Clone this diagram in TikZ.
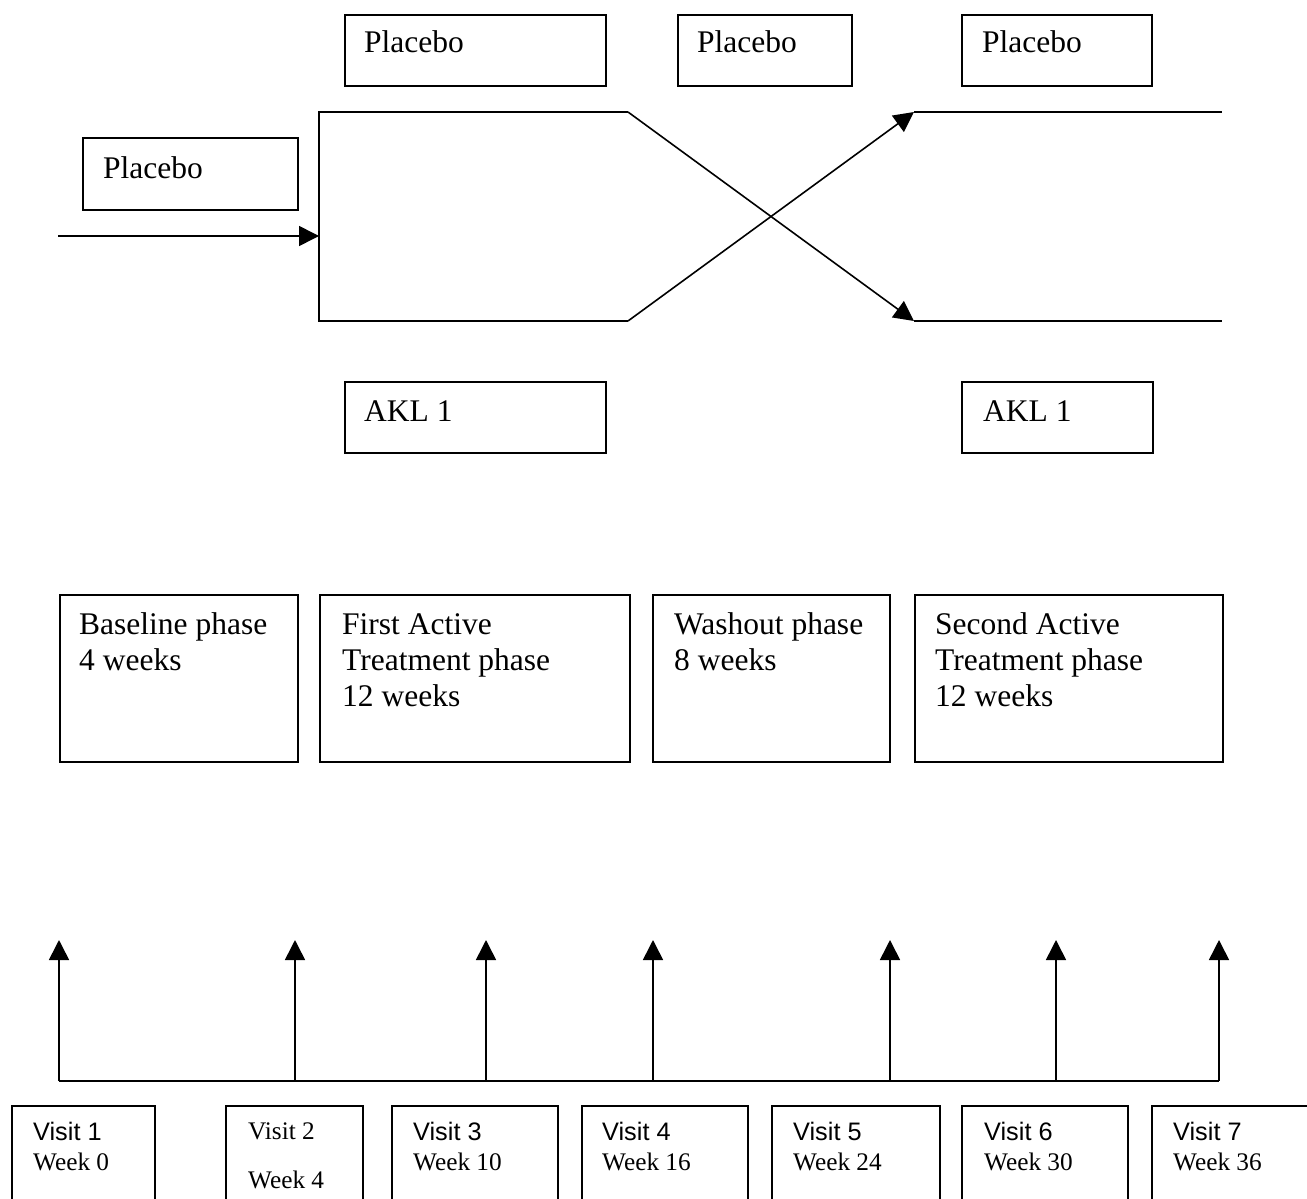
\documentclass[tikz,border=0pt]{standalone}
\usepackage{fontspec}
\setmainfont{Liberation Serif}
\newfontfamily\arialfont{Liberation Sans}
\usetikzlibrary{arrows.meta}
\begin{document}
\begin{tikzpicture}[x=1pt,y=-1pt,
  frame/.style={draw, line width=1.6pt, inner sep=0pt, anchor=north west},
  big/.style={inner sep=0pt, anchor=base west, font=\fontsize{31.5}{36}\selectfont, align=left},
  small/.style={inner sep=0pt, anchor=base west, font=\fontsize{25.3}{30}\selectfont},
  conn/.style={line width=1.6pt},
  arr/.style={conn, -{Triangle[length=20pt,width=20pt]}}]
\useasboundingbox (0,0) rectangle (1307,1199);
\clip (0,0) rectangle (1307,1199);
\newcommand\mybox[5]{\node[frame, minimum width=#4-#2, minimum height=#5-#3] (#1) at (#2,#3) {};}
% top label boxes
\mybox{pA}{344}{14}{605}{85}
\mybox{pB}{677}{14}{851}{85}
\mybox{pC}{961}{14}{1151}{85}
\mybox{pL}{82}{137}{297}{209}
\mybox{aA}{344}{381}{605}{452}
\mybox{aC}{961}{381}{1152}{452}
\node[big] (tA) at (364,53) {Placebo};
\node[big] (tB) at (697,53) {Placebo};
\node[big] (tC) at (982,53) {Placebo};
\node[big] (tL) at (103,178) {Placebo};
\node[big] (tAa) at (364,421) {AKL 1};
\node[big] (tCa) at (983,421) {AKL 1};
% crossover lines
\coordinate (in) at (58,236);
\coordinate (jL) at (319,236);
\coordinate (uL) at (319,112);
\coordinate (dL) at (319,321);
\coordinate (uM) at (628,112);
\coordinate (dM) at (628,321);
\coordinate (uR) at (914,112);
\coordinate (dR) at (914,321);
\coordinate (uE) at (1222,112);
\coordinate (dE) at (1222,321);
\draw[arr] (in) -- (jL);
\draw[conn] (uM) -- (uL) -- (dL) -- (dM);
\draw[arr] (uM) -- (dR);
\draw[arr] (dM) -- (uR);
\draw[conn] (uR) -- (uE);
\draw[conn] (dR) -- (dE);
% phase boxes
\mybox{ph1}{59}{594}{297}{761}
\mybox{ph2}{319}{594}{629}{761}
\mybox{ph3}{652}{594}{889}{761}
\mybox{ph4}{914}{594}{1222}{761}
\node[big] (tp1) at (79,670) {Baseline phase\\4 weeks};
\node[big] (tp2) at (342,706) {First Active\\Treatment phase\\12 weeks};
\node[big] (tp3) at (674,670) {Washout phase\\8 weeks};
\node[big] (tp4) at (935,706) {Second Active\\Treatment phase\\12 weeks};
% timeline
\foreach \i/\x in {1/59,2/295,3/486,4/653,5/890,6/1056,7/1219}{
  \coordinate (b\i) at (\x,1081);
  \coordinate (t\i) at (\x,940);
  \draw[arr] (b\i) -- (t\i);
}
\draw[conn] (b1) -- (b7);
% visit boxes
\mybox{v1}{11}{1105}{154}{1220}
\mybox{v2}{225}{1105}{362}{1220}
\mybox{v3}{391}{1105}{557}{1220}
\mybox{v4}{581}{1105}{747}{1220}
\mybox{v5}{771}{1105}{939}{1220}
\mybox{v6}{961}{1105}{1127}{1220}
\mybox{v7}{1151}{1105}{1320}{1220}
\node[small, font=\arialfont\fontsize{25.3}{30}\selectfont] (vt1) at (33,1140) {Visit 1};
\node[small] (wt1) at (33,1170) {Week 0};
\node[small] (vt2) at (248,1139) {Visit 2};
\node[small] (wt2) at (248,1188) {Week 4};
\foreach \i/\x/\w in {3/413/10,4/602/16,5/793/24,6/984/30,7/1173/36}{
  \node[small, font=\arialfont\fontsize{25.3}{30}\selectfont] (vt\i) at (\x,1140) {Visit \i};
  \node[small] (wt\i) at (\x,1170) {Week \w};
}
\end{tikzpicture}
\end{document}
